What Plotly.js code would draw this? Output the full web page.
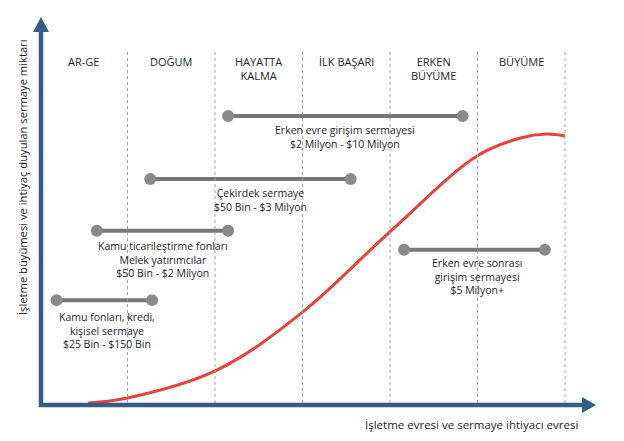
<!DOCTYPE html>
<html><head><meta charset="utf-8">
<script src="https://cdn.plot.ly/plotly-3.0.1.min.js"></script>
<style>html,body{margin:0;padding:0;background:#fff}#chart{width:624px;height:441px}</style>
</head><body><div id="chart"></div>
<script>
// Stage names (columns between boundaries 0..6)
const stages = ["AR-GE", "DOĞUM", "HAYATTA<br>KALMA", "İLK BAŞARI", "ERKEN<br>BÜYÜME", "BÜYÜME"];
const stageBounds = [1, 2, 3, 4, 5, 6];

// Growth / capital need curve (stage units, relative capital 0-100)
const curveX = [0.55, 1.0, 2.02, 2.99, 4.01, 4.99, 5.49, 5.79, 6.0];
const curveY = [0.5, 1.8, 9.0, 23.8, 45.0, 64.3, 69.0, 70.0, 69.5];

// Funding ranges
const fundNames = [
  "Erken evre girişim sermayesi<br>$2 Milyon - $10 Milyon",
  "Çekirdek sermaye<br>$50 Bin - $3 Milyon",
  "Kamu ticarileştirme fonları<br>Melek yatırımcılar<br>$50 Bin - $2 Milyon",
  "Kamu fonları, kredi,<br>kişisel sermaye<br>$25 Bin - $150 Bin",
  "Erken evre sonrası<br>girişim sermayesi<br>$5 Milyon+"
];
const fundStart = [2.15, 1.26, 0.65, 0.19, 4.16];
const fundEnd   = [4.83, 3.55, 2.15, 1.28, 5.77];
const fundLevel = [74.7, 58.4, 45.0, 27.1, 40.1];

// ---- layout helpers (pixel geometry of the frame) ----
const W = 624, H = 441;
const xr = [-0.457, 6.674], yr = [-9.30, 104.65];
const px2x = p => xr[0] + (xr[1]-xr[0]) * p / W;
const py2y = p => yr[1] - (yr[1]-yr[0]) * p / H;

const font = "'Open Sans', 'Noto Sans', sans-serif";
const txtCol = "#1d1d2b";
const axisCol = "#335d82";

const traces = [];
fundStart.forEach((s, i) => {
  traces.push({
    x: [s, fundEnd[i]], y: [fundLevel[i], fundLevel[i]],
    mode: "lines+markers", type: "scatter", hoverinfo: "skip",
    line: {color: "#777777", width: 4},
    marker: {color: "#8a8a8a", size: 12}
  });
});
traces.push({
  x: curveX, y: curveY, mode: "lines", type: "scatter", hoverinfo: "skip",
  line: {color: "#e8433a", width: 3, shape: "spline", smoothing: 1}
});

const shapes = [];
stageBounds.forEach(b => {
  shapes.push({type: "line", xref: "x", yref: "y", x0: b, x1: b, y0: py2y(52), y1: py2y(403),
    line: {color: "#a0a0a0", width: 1, dash: "3px,3px"}});
});
// axes with arrows
shapes.push({type: "line", xref: "x", yref: "y", x0: px2x(41), x1: px2x(41), y0: py2y(407), y1: py2y(30),
  line: {color: axisCol, width: 4.5}});
shapes.push({type: "path", xref: "x", yref: "y",
  path: `M ${px2x(33)} ${py2y(32)} L ${px2x(49)} ${py2y(32)} L ${px2x(41)} ${py2y(17)} Z`,
  fillcolor: axisCol, line: {width: 0}});
shapes.push({type: "line", xref: "x", yref: "y", x0: px2x(39), x1: px2x(584), y0: py2y(405), y1: py2y(405),
  line: {color: axisCol, width: 4.5}});
shapes.push({type: "path", xref: "x", yref: "y",
  path: `M ${px2x(582)} ${py2y(397)} L ${px2x(582)} ${py2y(413)} L ${px2x(596)} ${py2y(405)} Z`,
  fillcolor: axisCol, line: {width: 0}});

const annotations = [];
stages.forEach((s, i) => {
  annotations.push({x: i + 0.5, y: py2y(52), text: s, showarrow: false,
    xanchor: "center", yanchor: "top", font: {family: font, size: 11, color: txtCol}});
});
const labelDx = [0, 0.11, 0, 0.03, 0.03];
const labelOff = [5, 5, 6, 8, 4];
fundNames.forEach((n, i) => {
  const cx = (fundStart[i] + fundEnd[i]) / 2 + labelDx[i];
  annotations.push({x: cx, y: fundLevel[i], yshift: -labelOff[i], text: n, showarrow: false,
    xanchor: "center", yanchor: "top", font: {family: font, size: 10.5, color: txtCol}});
});
annotations.push({x: px2x(22), y: py2y(177), text: "İşletme büyümesi ve ihtiyaç duyulan sermaye miktarı",
  textangle: -90, showarrow: false, xanchor: "center", yanchor: "middle",
  font: {family: font, size: 11.2, color: txtCol}});
annotations.push({x: px2x(580), y: py2y(424), text: "İşletme evresi ve sermaye ihtiyacı evresi",
  showarrow: false, xanchor: "right", yanchor: "middle",
  font: {family: font, size: 11.5, color: txtCol}});

const layout = {
  width: W, height: H, margin: {l: 0, r: 0, t: 0, b: 0},
  paper_bgcolor: "#ffffff", plot_bgcolor: "#ffffff", showlegend: false,
  xaxis: {range: xr, visible: false, fixedrange: true},
  yaxis: {range: yr, visible: false, fixedrange: true},
  shapes: shapes, annotations: annotations
};
Plotly.newPlot("chart", traces, layout, {displayModeBar: false, staticPlot: true});
</script></body></html>
